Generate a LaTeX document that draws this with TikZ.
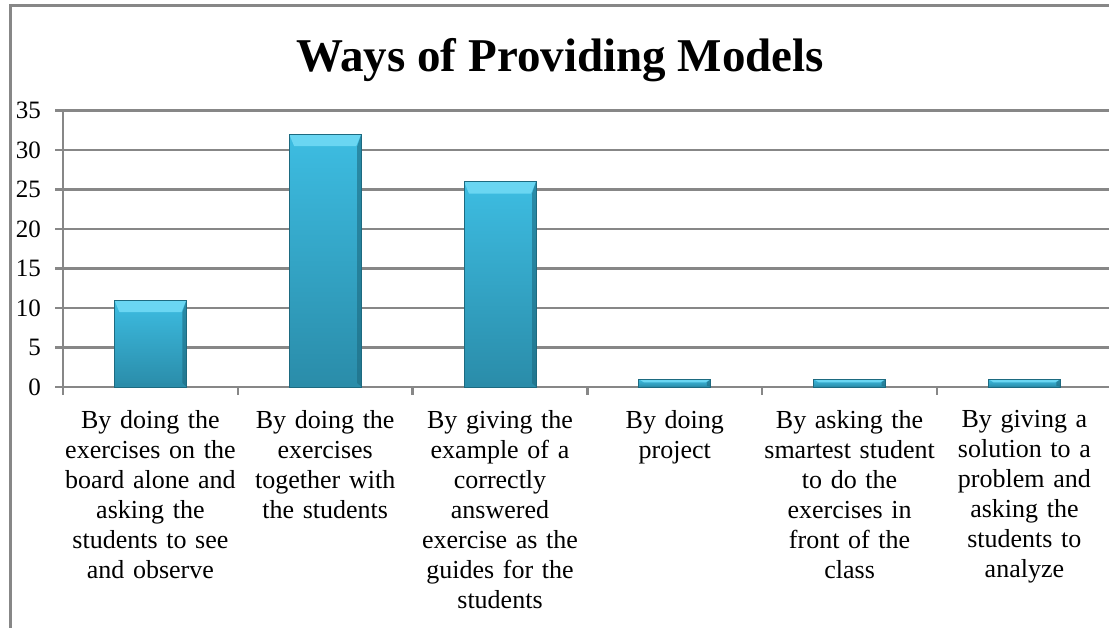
\documentclass[tikz,border=0pt]{standalone}
\usepackage{fontspec}
\setmainfont{Liberation Serif}
\usepackage{tikz}
\usetikzlibrary{positioning}

\definecolor{gridgray}{HTML}{878787}
\definecolor{barlite}{HTML}{3DBDE2}
\definecolor{bardeep}{HTML}{2A8CA9}
\definecolor{barhi}{HTML}{6AD6F2}
\definecolor{bardark}{HTML}{1D6A80}

\begin{document}
\begin{tikzpicture}[x=1pt,y=-1pt]
    \tikzstyle{grid}=[draw=gridgray, line width=2.5pt]
    \tikzstyle{val}=[anchor=east, inner sep=0pt,
            font=\fontsize{25}{30}\selectfont]
    \tikzstyle{cat}=[anchor=north, inner sep=0pt, text width=180pt,
            align=center, font=\fontsize{26}{30}\selectfont]

        \useasboundingbox (0,0) rectangle (1109,628);

        % chart frame, cut by the page
        \draw[grid, line width=3pt] (10.5,628) -- (10.5,6) -- (1109,6);

        \node[anchor=base, inner sep=0pt,
            font=\bfseries\fontsize{47}{50}\selectfont]
            (title) at (560,71.7) {Ways of Providing Models};

        \foreach \v in {0,5,...,35}
        {
            \draw[grid] (55,387-7.9*\v) -- (1109,387-7.9*\v);
            \node[val] (y\v) at (41,387-7.9*\v) {\v};
        }

        \draw[grid] (63,110.5) -- (63,395);
        \foreach \t in {1,...,6}
        {
            \draw[grid] (63+174.8*\t,387) -- ++(0,8);
        }

        \foreach \t/\h in {0/11, 1/32, 2/26, 3/1, 4/1, 5/1}
        {
            \pgfmathsetmacro{\xa}{63+174.8*\t+51.4}
            \pgfmathsetmacro{\xb}{\xa+72}
            \pgfmathsetmacro{\ya}{387-7.9*\h}
            \pgfmathsetmacro{\bv}{min(12,0.4*7.9*\h)}
            \shade[top color=barlite, bottom color=bardeep]
            (\xa,\ya) rectangle (\xb,387);
            \fill[barhi] (\xa,\ya) -- (\xb,\ya) -- (\xb-5,\ya+\bv)
            -- (\xa+5,\ya+\bv) -- cycle;
            \fill[bardark, opacity=0.6] (\xb,\ya) -- (\xb,387)
            -- (\xb-4,387-0.3*\bv) -- (\xb-4,\ya+\bv) -- cycle;
            \fill[bardeep] (\xa,387) -- (\xb,387) -- (\xb-4,387-0.3*\bv)
            -- (\xa+4,387-0.3*\bv) -- cycle;
            \draw[bardark, line width=0.8pt] (\xa,\ya) rectangle (\xb,387);
        }

        \node[cat] (c0) at (150.4,410) {By doing the\\exercises on the\\
            board alone and\\asking the\\students to see\\and observe};

        \node[cat] (c1) at (325.2,410) {By doing the\\exercises\\
            together with\\the students};

        \node[cat] (c2) at (500,410) {By giving the\\example of a\\
            correctly\\answered\\exercise as the\\guides for the\\students};

        \node[cat] (c3) at (674.8,410) {By doing\\project};

        \node[cat] (c4) at (849.6,410) {By asking the\\smartest student\\
            to do the\\exercises in\\front of the\\class};

        \node[cat] (c5) at (1024.4,410) {By giving a\\solution to a\\
            problem and\\asking the\\students to\\analyze};

    \end{tikzpicture}
\end{document}
